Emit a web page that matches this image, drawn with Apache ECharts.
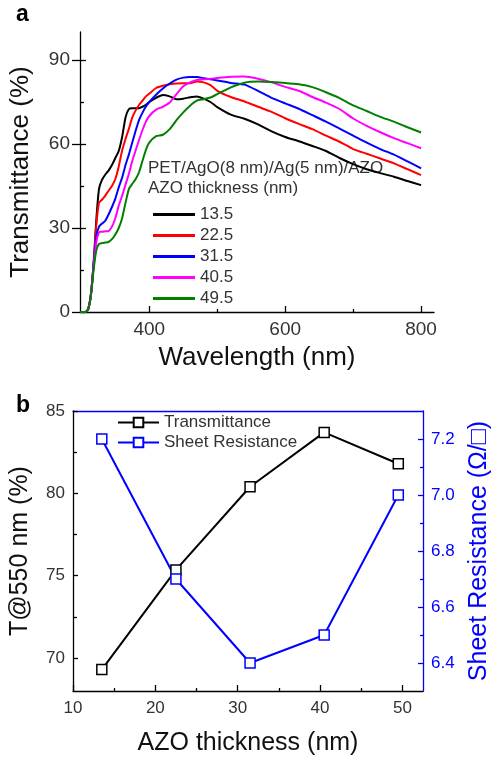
<!DOCTYPE html>
<html>
<head>
<meta charset="utf-8">
<script src="https://cdn.jsdelivr.net/npm/echarts@6/dist/echarts.min.js"></script>
<style>html,body{margin:0;padding:0;background:#fff}#c{width:500px;height:757px}</style>
</head>
<body>
<div id="c"></div>
<script>
// ---- Panel a: transmittance spectra ----
const wavelengths = [298,306,310,314,318,322,326,330,335,340,345,350,355,360,365,370,375,380,385,390,395,400,410,420,430,440,450,460,470,480,490,500,520,540,560,580,600,620,640,660,680,700,720,740,760,780,800];
const T_13_5 = [0,0,1,6,17,33,44,47,49,50.5,52.5,55,57.5,62.5,69.5,72.5,72.8,72.8,72.8,73.3,74,75,76.5,77.5,77,76,76.2,76.7,77,76.2,75,73.2,70.5,69,67,64.5,62.5,61,59.3,57.5,55,52.8,51,49.6,48.3,46.8,45.3];
const T_22_5 = [0,0,1,6,17,31,39,40,41.5,43.3,45,47.5,52,57.7,61.8,65.5,69.5,72,74,75.5,77,78,80,80.8,81.3,81.6,81.7,81.7,82.3,82,81,79,76.8,75.2,73.3,71.5,69.2,67.2,65.3,63,60.8,58.2,56.5,54.8,53.1,51,48.9];
const T_31_5 = [0,0,1,6,17,27,30.5,31.5,32.5,34.8,37.5,40.5,44.5,48,52.5,56.3,60.6,64.8,68.6,71.2,73.4,75,77.6,79.8,81.6,83,83.7,83.9,83.9,83.5,83.1,82.7,81.8,81.2,79,76.5,74.5,72.6,70.3,68,65.5,63,60.5,58.2,56.2,53.8,51.3];
const T_40_5 = [0,0,1,6,16,25,28.5,28.7,28.8,28.9,30.5,33.5,38,41.5,45.5,49.5,54,57.8,61.5,65,68,70,72.3,73.3,74.8,77.8,80.6,82,82.9,83.1,83.3,83.6,84,84.1,83.3,82,80.4,79,76.8,74.8,72.5,69.1,66.5,64.2,62.1,60.3,58.5];
const T_49_5 = [0,0,1,6,15,22,24.3,24.6,24.8,25,26,27.7,30,33.5,39,44,45.8,47.5,50,54,57.9,60.5,62.8,63.3,65.3,68.5,71.3,73.7,75.5,76,76.6,77.8,80.2,81.9,82.3,82.1,81.8,81.3,80.3,78.5,76.4,73.8,71.8,69.7,68,66,64.1];
const spectraNames = ['13.5','22.5','31.5','40.5','49.5'];
const spectraColors = ['#000000','#ff0000','#0000ff','#ff00ff','#008000'];
const spectra = [T_13_5,T_22_5,T_31_5,T_40_5,T_49_5];
const aXTicks = [400,600,800];
const aXMinor = [500,700];
const aYTicks = [0,30,60,90];
const aYMinor = [15,45,75];

// ---- Panel b: T@550 nm and sheet resistance ----
const thickness = [13.5,22.5,31.5,40.5,49.5];
const transAt550 = [69.3,75.35,80.4,83.7,81.8];
const sheetRes = [7.2,6.70,6.40,6.50,7.0];
const bXTicks = [10,20,30,40,50];
const bXMinor = [15,25,35,45];
const bYTicks = [70,75,80,85];
const bYMinor = [72.5,77.5,82.5];
const bY2Ticks = [6.4,6.6,6.8,7.0,7.2];
const bY2Minor = [6.5,6.7,6.9,7.1];

const FF = "'Liberation Sans', Arial, sans-serif";
const chart = echarts.init(document.getElementById('c'), null, {renderer:'canvas'});

function tickAxis(base, vals, len, inside, color, extra) {
  return Object.assign({
    type:'value', splitLine:{show:false},
    axisLine:{show:false}, axisLabel:{show:false},
    axisTick:{show:true, customValues:vals, length:len, inside:inside, lineStyle:{color:color, width:1.3}}
  }, base, extra||{});
}

const option = {
  animation:false,
  backgroundColor:'#fff',
  textStyle:{fontFamily:FF},
  grid:[
    {left:78, top:32, width:356, height:280},
    {left:72, top:411, width:360, height:281.5}
  ],
  xAxis:[
    {type:'value', gridIndex:0, min:298, max:819, position:'bottom',
     name:'Wavelength (nm)', nameLocation:'middle', nameGap:33,
     nameTextStyle:{fontSize:26, color:'#111', fontFamily:FF},
     axisLine:{show:true, lineStyle:{color:'#000', width:1.3}},
     axisTick:{show:true, customValues:aXTicks, inside:true, length:6, lineStyle:{color:'#000', width:1.3}},
     axisLabel:{customValues:aXTicks, fontSize:19, color:'#333', margin:8, fontFamily:FF},
     splitLine:{show:false}},
    tickAxis({gridIndex:0, min:298, max:819, position:'bottom'}, aXMinor, 3, true, '#000'),
    {type:'value', gridIndex:1, min:10, max:52.5, position:'bottom',
     name:'AZO thickness (nm)', nameLocation:'middle', nameGap:40,
     nameTextStyle:{fontSize:25, color:'#111', fontFamily:FF},
     axisLine:{show:true, lineStyle:{color:'#000', width:1.3}},
     axisTick:{show:true, customValues:bXTicks, inside:true, length:6, lineStyle:{color:'#000', width:1.3}},
     axisLabel:{customValues:bXTicks, fontSize:17, color:'#333', margin:9, fontFamily:FF},
     splitLine:{show:false}},
    tickAxis({gridIndex:1, min:10, max:52.5, position:'bottom'}, bXMinor, 3, true, '#000'),
    {type:'value', gridIndex:1, min:10, max:52.5, position:'top',
     axisLine:{show:true, lineStyle:{color:'#0000ff', width:1.3}},
     axisTick:{show:false}, axisLabel:{show:false}, splitLine:{show:false}}
  ],
  yAxis:[
    {type:'value', gridIndex:0, min:0, max:100, position:'left',
     name:'Transmittance (%)', nameLocation:'middle', nameGap:46, nameRotate:90,
     nameTextStyle:{fontSize:26, color:'#111', fontFamily:FF},
     axisLine:{show:true, lineStyle:{color:'#000', width:1.3}},
     axisTick:{show:true, customValues:aYTicks, inside:true, length:6, lineStyle:{color:'#000', width:1.3}},
     axisLabel:{customValues:aYTicks, fontSize:19, color:'#333', margin:10, fontFamily:FF},
     splitLine:{show:false}},
    tickAxis({gridIndex:0, min:0, max:100, position:'left'}, aYTicks, 8, false, '#000'),
    tickAxis({gridIndex:0, min:0, max:100, position:'left'}, aYMinor, 4, true, '#000'),
    {type:'value', gridIndex:1, min:68, max:85, position:'left',
     name:'T@550 nm (%)', nameLocation:'middle', nameGap:40, nameRotate:90,
     nameTextStyle:{fontSize:25, color:'#111', fontFamily:FF},
     axisLine:{show:true, lineStyle:{color:'#000', width:1.3}},
     axisTick:{show:true, customValues:bYTicks, inside:true, length:5, lineStyle:{color:'#000', width:1.3}},
     axisLabel:{customValues:bYTicks, fontSize:17, color:'#333', margin:8, fontFamily:FF},
     splitLine:{show:false}},
    tickAxis({gridIndex:1, min:68, max:85, position:'left'}, bYMinor, 4, true, '#000'),
    {type:'value', gridIndex:1, min:6.3, max:7.3, position:'right',
     name:'Sheet Resistance (\u03A9/\u25A1)', nameLocation:'middle', nameGap:44, nameRotate:90,
     nameTextStyle:{fontSize:25, color:'#0000ff', fontFamily:FF},
     axisLine:{show:true, lineStyle:{color:'#0000ff', width:1.3}},
     axisTick:{show:true, customValues:bY2Ticks, inside:true, length:5, lineStyle:{color:'#0000ff', width:1.3}},
     axisLabel:{customValues:bY2Ticks, fontSize:17, color:'#0000ff', margin:8, fontFamily:FF,
       formatter:function(v){return v.toFixed(1);}},
     splitLine:{show:false}},
    tickAxis({gridIndex:1, min:6.3, max:7.3, position:'right'}, bY2Minor, 3, true, '#0000ff')
  ],
  legend:[
    {orient:'vertical', left:148, top:201, itemWidth:42, itemHeight:3, itemGap:4,
     icon:'rect',
     data:spectraNames, textStyle:{fontSize:17, color:'#333', fontFamily:FF}},
    {orient:'vertical', left:112, top:409, itemWidth:41, itemHeight:12, itemGap:3,
     data:['Transmittance','Sheet Resistance'], textStyle:{fontSize:17, color:'#333', fontFamily:FF}}
  ],
  graphic:[
    {type:'text', left:148, top:160, style:{text:'PET/AgO(8 nm)/Ag(5 nm)/AZO', fontSize:17, fill:'#333', fontFamily:FF}},
    {type:'text', left:148, top:180, style:{text:'AZO thickness (nm)', fontSize:17, fill:'#333', fontFamily:FF}},
    {type:'text', left:16, top:3, style:{text:'a', fontSize:23, fontWeight:'bold', fill:'#000', fontFamily:FF}},
    {type:'text', left:16, top:394, style:{text:'b', fontSize:23, fontWeight:'bold', fill:'#000', fontFamily:FF}}
  ],
  series:[]
};

spectra.forEach(function(vals, i){
  option.series.push({
    name:spectraNames[i], type:'line', xAxisIndex:0, yAxisIndex:0,
    data:wavelengths.map(function(w, j){return [w, vals[j]];}),
    showSymbol:false, symbol:'none', smooth:0.2,
    lineStyle:{color:spectraColors[i], width:2}, itemStyle:{color:spectraColors[i]}
  });
});
option.series.push({
  name:'Transmittance', type:'line', xAxisIndex:2, yAxisIndex:3,
  data:thickness.map(function(t,j){return [t, transAt550[j]];}),
  symbol:'rect', symbolSize:10,
  lineStyle:{color:'#000', width:2},
  itemStyle:{color:'#fff', borderColor:'#000', borderWidth:1.5}
});
option.series.push({
  name:'Sheet Resistance', type:'line', xAxisIndex:2, yAxisIndex:5,
  data:thickness.map(function(t,j){return [t, sheetRes[j]];}),
  symbol:'rect', symbolSize:10,
  lineStyle:{color:'#0000ff', width:2},
  itemStyle:{color:'#fff', borderColor:'#0000ff', borderWidth:1.5}
});

chart.setOption(option);
</script>
</body>
</html>
